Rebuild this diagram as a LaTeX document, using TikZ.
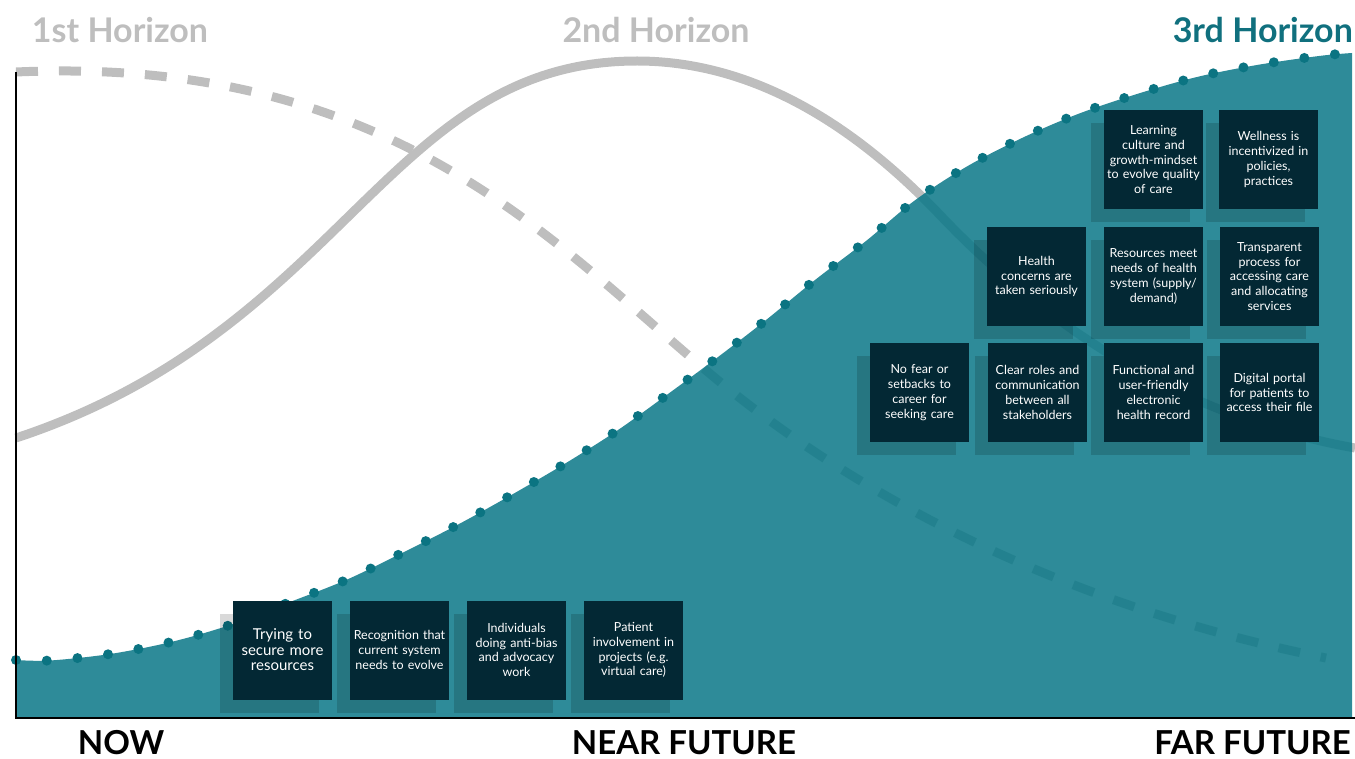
\documentclass[tikz,border=0pt]{standalone}
\usepackage{fontspec}
\setmainfont{Lato}
\usetikzlibrary{shadows}

\definecolor{tealarea}{RGB}{9,119,135}
\definecolor{tealdot}{RGB}{11,116,130}
\definecolor{tealtitle}{RGB}{16,112,126}
\definecolor{cardfill}{RGB}{3,40,52}
\definecolor{horizongray}{RGB}{190,190,190}

% the three horizon curves
\newcommand{\tealedge}{plot[smooth,tension=0.55] coordinates {(16,660) (50,660.5) (110,654) (171,642) (230,625) (290,602) (346,580) (402,553) (459,524) (513,494) (566,463) (618,430) (668,394) (718,357) (766,320) (815,280) (866,241) (914,201) (966,167) (1022,138) (1078,114) (1137,94) (1197,77) (1257,65) (1319,56) (1352,53)}}
\newcommand{\secondedge}{(16,438) .. controls (346,329) and (387,61) .. (637,61) .. controls (767,61) and (870,141.5) .. (940,215) .. controls (1040,320) and (1175,415.6) .. (1355,448)}
\newcommand{\firstedge}{(16,72) .. controls (400,55) and (560,251) .. (720,382) .. controls (870,505) and (1076,608) .. (1326,658)}

\tikzset{
  card/.style={fill=cardfill, minimum width=99, minimum height=99, inner sep=0pt, text width=99, align=center, text=white, font=\fontsize{12.5}{14.8}\selectfont, drop shadow={shadow xshift=-13pt, shadow yshift=-13pt, fill=black, opacity=0.15}},
  horizon/.style={font=\fontsize{34}{34}\selectfont\bfseries, text=horizongray, inner sep=0pt},
  timelabel/.style={font=\fontsize{33}{33}\selectfont\bfseries, inner sep=0pt, anchor=base},
  curve/.style={line width=9, draw=horizongray},
  dots/.style={draw=tealdot, line width=10, line cap=round, dash pattern=on 0pt off 30.8pt}
}

\begin{document}
\begin{tikzpicture}[x=1pt,y=1pt,yscale=-1,xscale=1]
\useasboundingbox (0,0) rectangle (1355,759);

% first and second horizon
\draw [curve, dash pattern=on 22pt off 21pt] \firstedge;
\draw [curve] \secondedge;

% third horizon area, lets the curves show through
\fill [tealarea, fill opacity=0.85] \tealedge -- (1352,718) -- (16,718) -- cycle;
\draw [dots] \tealedge;

% Cards near future
\node [card, font=\fontsize{15}{15.5}\selectfont] (secure) at (282.5,650) {Trying to\\secure more\\resources};
\node [card] (recognition) at (399.5,650) {Recognition that\\current system\\needs to evolve};
\node [card] (antibias) at (516.5,650) {Individuals\\doing anti-bias\\and advocacy\\work};
\node [card] (patient) at (633.5,650) {Patient\\involvement in\\projects (e.g.\\virtual care)};

% Cards far future
\node [card] (learning) at (1153.5,159.5) {Learning\\culture and\\growth-mindset\\to evolve quality\\of care};
\node [card] (wellness) at (1268.5,159.5) {Wellness is\\incentivized in\\policies,\\practices};
\node [card] (concerns) at (1036.5,276.5) {Health\\concerns are\\taken seriously};
\node [card] (resources) at (1153.5,276.5) {Resources meet\\needs of health\\system (supply/\\demand)};
\node [card] (transparent) at (1269.5,276.5) {Transparent\\process for\\accessing care\\and allocating\\services};
\node [card] (nofear) at (919.5,392.5) {No fear or\\setbacks to\\career for\\seeking care};
\node [card] (roles) at (1037.5,392.5) {Clear roles and\\communication\\between all\\stakeholders};
\node [card] (record) at (1153.5,392.5) {Functional and\\user-friendly\\electronic\\health record};
\node [card] (portal) at (1269.5,392.5) {Digital portal\\for patients to\\access their file};

% Axes
\draw [line width=2] (16,72) -- (16,718) -- (1355,718);

% Text Node
\node [horizon] (h1) at (120,30) {1st Horizon};
\node [horizon] (h2) at (656,30) {2nd Horizon};
\node [horizon, text=tealtitle, anchor=east] (h3) at (1353,30) {3rd Horizon};
% Text Node
\node [timelabel] (now) at (121,754) {NOW};
\node [timelabel] (near) at (684,754) {NEAR FUTURE};
\node [timelabel, anchor=base east] (far) at (1351,754) {FAR FUTURE};

\end{tikzpicture}
\end{document}
